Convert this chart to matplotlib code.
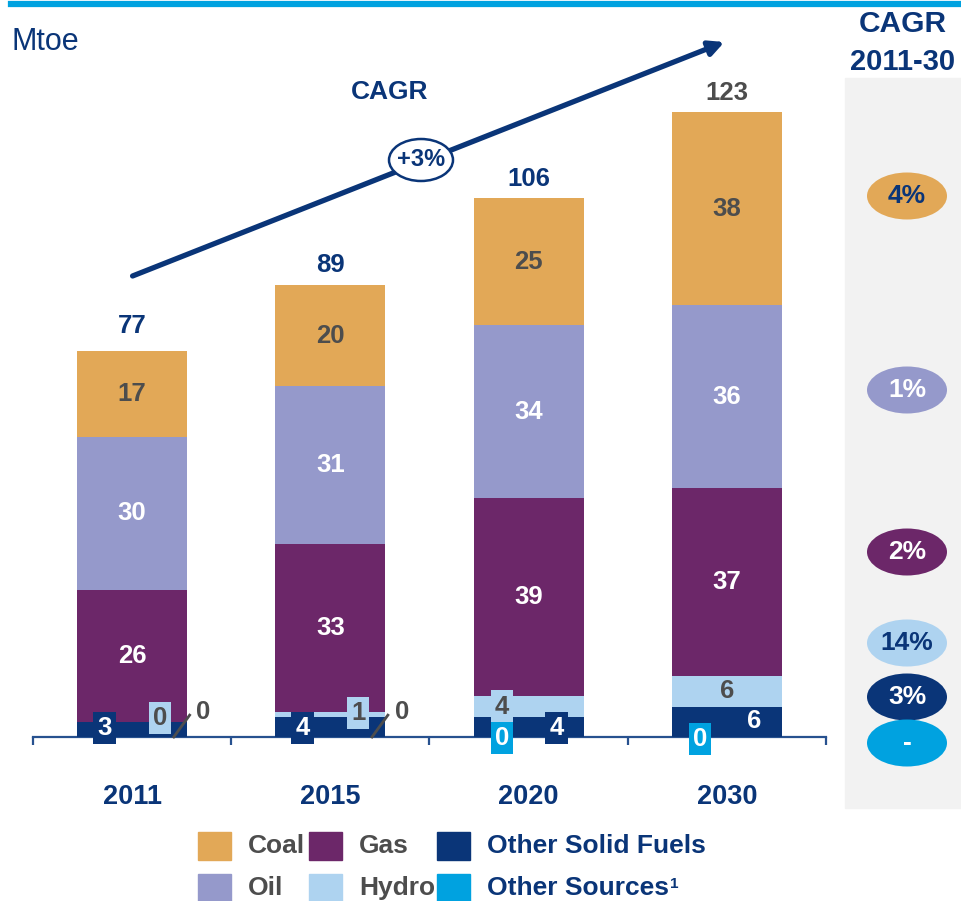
import matplotlib.pyplot as plt
from matplotlib.patches import Rectangle, Ellipse, FancyArrowPatch
from matplotlib.lines import Line2D

# values (Mtoe), bottom to top of each bar
years = ['2011', '2015', '2020', '2030']
other_solid = [3, 4, 4, 6]
other_sources = [0, 0, 0, 0]
hydro = [0, 1, 4, 6]
gas = [26, 33, 39, 37]
oil = [30, 31, 34, 36]
coal = [17, 20, 25, 38]
totals = [77, 89, 106, 123]

cagr_total = '+3%'
cagr_names = ['Coal', 'Oil', 'Gas', 'Hydro', 'Other Solid Fuels', 'Other Sources']
cagr_values = ['4%', '1%', '2%', '14%', '3%', '-']

# colours
C_COAL = '#E2A857'
C_GAS = '#6C2769'
C_OIL = '#9599CB'
C_HYDRO = '#AED3F0'
C_OSF = '#0A3578'
C_OTHER = '#00A2E0'
NAVY = '#0A3578'
GRAY = '#4D4D4D'
AXIS = '#27518F'

plt.rcParams['font.family'] = ['Liberation Sans', 'DejaVu Sans']

W, H = 962, 901
def fx(x):
    return x / W
def fy(y):
    return 1 - y / H

fig = plt.figure(figsize=(W / 100, H / 100), dpi=100)

# grey CAGR panel on the right
fig.patches.append(Rectangle((fx(845), fy(808)), 117 / W, 730 / H,
                             transform=fig.transFigure, color='#F2F2F2', zorder=0))
# top cyan rule
fig.add_artist(Line2D([fx(11), 1], [fy(4), fy(4)], color=C_OTHER, lw=4.5,
                      transform=fig.transFigure))

ax = fig.add_axes([fx(33), fy(737), 793 / W, 686 / H])
ax.patch.set_alpha(0)
ax.set_xlim(-0.5, 3.5)
ax.set_ylim(0, 135)

x = range(len(years))
series = [(other_solid, C_OSF), (other_sources, C_OTHER), (hydro, C_HYDRO),
          (gas, C_GAS), (oil, C_OIL), (coal, C_COAL)]
bottom = [0] * len(years)
bottoms = []
for vals, col in series:
    ax.bar(x, vals, width=0.555, bottom=bottom, color=col, zorder=2)
    bottoms.append(list(bottom))
    bottom = [b + v for b, v in zip(bottom, vals)]

FS = 18.5

# labels inside the big segments
big = [(3, gas, 'white'), (4, oil, 'white'), (5, coal, GRAY)]
for k, vals, tc in big:
    for i, v in enumerate(vals):
        ax.text(i, bottoms[k][i] + v / 2, str(v), ha='center', va='center',
                fontsize=FS, fontweight='bold', color=tc, zorder=5)

# totals
for i, t in enumerate(totals):
    ax.text(i, t + 3.8, str(t), ha='center', va='center', fontsize=FS,
            fontweight='bold', color=GRAY if i == 3 else NAVY, zorder=5)

def boxed(i, dx, y, txt, fc, tc):
    ax.text(i + dx, y, txt, ha='center', va='center', fontsize=FS,
            fontweight='bold', color=tc, zorder=6, clip_on=False,
            bbox=dict(boxstyle='square,pad=0.16', fc=fc, ec='none'))

# small values near the base
boxed(0, -0.14, 1.8, str(other_solid[0]), C_OSF, 'white')
boxed(0, 0.14, 3.7, str(hydro[0]), C_HYDRO, GRAY)
boxed(1, -0.14, 1.8, str(other_solid[1]), C_OSF, 'white')
boxed(1, 0.14, 4.7, str(hydro[1]), C_HYDRO, GRAY)
for i in (0, 1):
    ax.plot([i + 0.21, i + 0.29], [0, 4.3], color=GRAY, lw=2, zorder=6,
            clip_on=False)
    ax.text(i + 0.36, 4.9, str(other_sources[i]), ha='center', va='center',
            fontsize=FS, fontweight='bold', color=GRAY, zorder=6)
boxed(2, -0.135, 6.0, str(hydro[2]), C_HYDRO, GRAY)
boxed(2, -0.135, -0.2, str(other_sources[2]), C_OTHER, 'white')
boxed(2, 0.14, 1.8, str(other_solid[2]), C_OSF, 'white')
ax.text(3, bottoms[2][3] + hydro[3] / 2, str(hydro[3]), ha='center',
        va='center', fontsize=FS, fontweight='bold', color=GRAY, zorder=6)
ax.text(3.135, 3.2, str(other_solid[3]), ha='center', va='center',
        fontsize=FS, fontweight='bold', color='white', zorder=6)
boxed(3, -0.135, -0.4, str(other_sources[3]), C_OTHER, 'white')

# axis styling
for s in ('left', 'right', 'top'):
    ax.spines[s].set_visible(False)
ax.spines['bottom'].set_color(AXIS)
ax.spines['bottom'].set_linewidth(1.6)
ax.spines['bottom'].set_zorder(1)
ax.set_yticks([])
ax.set_xticks([-0.5, 0.5, 1.5, 2.5, 3.5])
ax.set_xticklabels([])
ax.tick_params(axis='x', length=6, width=1.6, color=AXIS, direction='out')
for i, yr in enumerate(years):
    ax.text(i, -11.8, yr, ha='center', va='center', fontsize=19.5,
            fontweight='bold', color=NAVY, clip_on=False)

# unit and CAGR arrow
fig.text(fx(12), fy(42), 'Mtoe', fontsize=22, color=NAVY, ha='left', va='center')
fig.text(fx(390), fy(92), 'CAGR', fontsize=19, fontweight='bold', color=NAVY,
         ha='center', va='center')
arrow = FancyArrowPatch((fx(130), fy(277)), (fx(727), fy(41)),
                        transform=fig.transFigure, arrowstyle='-|>',
                        mutation_scale=22, lw=3.8, color=NAVY)
fig.add_artist(arrow)
fig.add_artist(Ellipse((fx(421), fy(160)), 64 / W, 42 / H, transform=fig.transFigure,
                       fc='white', ec=NAVY, lw=1.8))
fig.text(fx(421), fy(160), cagr_total, fontsize=17, fontweight='bold', color=NAVY,
         ha='center', va='center')

# right CAGR panel
fig.text(fx(903), fy(24), 'CAGR', fontsize=21.5, fontweight='bold', color=NAVY,
         ha='center', va='center')
fig.text(fx(903), fy(62), '2011-30', fontsize=21, fontweight='bold', color=NAVY,
         ha='center', va='center')
pill_y = [196, 390, 552, 643, 697, 743]
pill_fc = [C_COAL, C_OIL, C_GAS, C_HYDRO, C_OSF, C_OTHER]
pill_tc = [NAVY, 'white', 'white', NAVY, 'white', 'white']
for yy, lab, fc, tc in zip(pill_y, cagr_values, pill_fc, pill_tc):
    fig.add_artist(Ellipse((fx(907), fy(yy)), 80 / W, 47 / H,
                           transform=fig.transFigure, fc=fc, ec='none'))
    fig.text(fx(907), fy(yy), lab, fontsize=19, fontweight='bold', color=tc,
             ha='center', va='center')

# legend
leg = [('Coal', C_COAL, 198, 846, GRAY), ('Gas', C_GAS, 309, 846, GRAY),
       ('Other Solid Fuels', C_OSF, 437, 846, NAVY),
       ('Oil', C_OIL, 198, 888, GRAY), ('Hydro', C_HYDRO, 309, 888, GRAY),
       ('Other Sources', C_OTHER, 437, 888, NAVY)]
for name, col, lx, ly, tc in leg:
    fig.patches.append(Rectangle((fx(lx), fy(ly + 14)), 33 / W, 28 / H,
                                 transform=fig.transFigure, color=col))
    t = fig.text(fx(lx + 50), fy(ly), name, fontsize=19, fontweight='bold',
                 color=tc, ha='left', va='center')
    if name == 'Other Sources':
        ax.annotate('1', xy=(1, 1), xycoords=t, xytext=(1, -1),
                    textcoords='offset points', ha='left', va='top',
                    fontsize=11, fontweight='bold', color=tc,
                    annotation_clip=False)

fig.savefig('out.png', dpi=100)
